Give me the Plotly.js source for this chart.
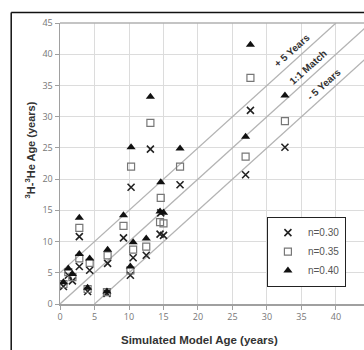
<!DOCTYPE html>
<html>
<head>
<meta charset="utf-8">
<script src="https://cdn.plot.ly/plotly-3.0.1.min.js"></script>
<style>html,body{margin:0;padding:0;background:#fff;}#chart{width:364px;height:350px;}</style>
</head>
<body>
<div id="chart"></div>
<script>
// Simulated model age (years)
const simAge = [0.5, 1.2, 1.8, 2.8, 2.8, 4.3, 4.0, 6.9, 6.8, 9.2, 10.3, 10.2, 10.6, 12.5, 13.1, 14.6, 14.5, 15.0, 17.4, 26.9, 27.6, 32.6];
// 3H-3He age (years) for each porosity
const n30 = [2.8, 4.6, 3.7, 10.8, 6.0, 5.4, 2.0, 6.5, 1.7, 10.6, 18.7, 4.6, 7.4, 7.8, 24.8, 14.6, 11.2, 11.0, 19.1, 20.7, 31.0, 25.1];
const n35 = [3.2, 5.1, 4.3, 12.2, 7.3, 6.6, 2.4, 7.8, 1.9, 12.5, 22.0, 5.4, 8.7, 9.2, 29.0, 17.0, 13.1, 12.9, 22.0, 23.6, 36.2, 29.3];
const n40 = [3.5, 5.7, 4.8, 13.8, 8.0, 7.3, 2.6, 8.7, 2.0, 14.2, 25.1, 6.0, 9.9, 10.5, 33.2, 19.5, 14.8, 14.6, 24.9, 26.8, 41.5, 33.4];
const seriesNames = ["n=0.30", "n=0.35", "n=0.40"];
// Reference lines: offset from 1:1 match
const lineOffsets = [5, 0, -5];
const lineLabels = ["+ 5 Years", "1:1 Match", "- 5 Years"];
const lineLabelX = [33.6, 35.9, 38.2];
const xTicks = [0, 5, 10, 15, 20, 25, 30, 35, 40, 45];
const yTicks = [0, 5, 10, 15, 20, 25, 30, 35, 40, 45];

const traces = [];
lineOffsets.forEach(function(off){
  const x0 = Math.max(0, -off), x1 = 45 - Math.max(0, off);
  traces.push({x:[x0, x1], y:[x0+off, x1+off], mode:'lines', type:'scatter',
    line:{color:'#b4b4b4', width:1.3}, showlegend:false, hoverinfo:'skip'});
});
traces.push({x:simAge, y:n30, name:seriesNames[0], mode:'markers', type:'scatter',
  marker:{symbol:'x-thin', size:7, line:{color:'#222', width:1.6}, color:'#222'}});
traces.push({x:simAge, y:n35, name:seriesNames[1], mode:'markers', type:'scatter',
  marker:{symbol:'square-open', size:7, color:'#777', line:{color:'#777', width:1.2}}});
traces.push({x:simAge, y:n40, name:seriesNames[2], mode:'markers', type:'scatter',
  marker:{symbol:'triangle-up', size:8, color:'#111', line:{width:0}}});

const ann = lineLabels.map(function(t, i){
  return {x:lineLabelX[i], y:lineLabelX[i] + lineOffsets[i] + 2.0, xref:'x', yref:'y', text:'<b>'+t+'</b>',
    xanchor:'center', yanchor:'middle',
    showarrow:false, textangle:-42, font:{family:'Liberation Sans, Arial, sans-serif', size:10, color:'#333'}};
});
ann.push({x:0.4595, y:-0.128, xref:'paper', yref:'paper', text:'<b>Simulated Model Age (years)</b>',
  xanchor:'center', yanchor:'middle',
  showarrow:false, font:{family:'Liberation Sans, Arial, sans-serif', size:11.5, color:'#333'}});
ann.push({x:-0.0997, y:0.549, xref:'paper', yref:'paper', text:'<b><sup>3</sup>H-<sup>3</sup>He Age (years)</b>',
  xanchor:'center', yanchor:'middle',
  showarrow:false, textangle:-90, font:{family:'Liberation Sans, Arial, sans-serif', size:11, color:'#333'}});

const layout = {
  width:364, height:350,
  margin:{l:60, r:0, t:23, b:46},
  paper_bgcolor:'#fff', plot_bgcolor:'#fff',
  showlegend:true,
  legend:{x:0.68, y:0.31, xanchor:'left', yanchor:'top', bgcolor:'#fff', bordercolor:'#222', borderwidth:1.2,
    font:{family:'Liberation Sans, Arial, sans-serif', size:10, color:'#555'}, itemwidth:30, tracegroupgap:0},
  xaxis:{range:[0, 44.06], tickvals:xTicks, ticktext:xTicks.map(String), showgrid:true, gridcolor:'#dcdcdc', gridwidth:1,
    showline:true, linecolor:'#a0a0a0', linewidth:1.5, mirror:false, zeroline:false,
    ticks:'outside', ticklen:4, tickcolor:'#a0a0a0', tickfont:{family:'Open Sans, sans-serif', size:9, color:'#777'}},
  yaxis:{range:[0, 45], tickvals:yTicks, ticktext:yTicks.map(String), showgrid:true, gridcolor:'#dcdcdc', gridwidth:1,
    showline:true, linecolor:'#a0a0a0', linewidth:1.5, zeroline:false,
    ticks:'outside', ticklen:4, tickcolor:'#a0a0a0', tickfont:{family:'Open Sans, sans-serif', size:9, color:'#777'}},
  annotations:ann,
  shapes:[
    {type:'line', xref:'paper', yref:'paper', x0:-0.1605, x1:1.2, y0:1.037, y1:1.037, line:{color:'#111', width:1.5}},
    {type:'line', xref:'paper', yref:'paper', x0:-0.1605, x1:-0.1605, y0:1.037, y1:-0.3, line:{color:'#111', width:1.5}},
    {type:'line', xref:'paper', yref:'paper', x0:0, x1:1.2, y0:1, y1:1, line:{color:'#b0b0b0', width:1.5}}
  ]
};
Plotly.newPlot('chart', traces, layout, {staticPlot:true, displayModeBar:false});
</script>
</body>
</html>
